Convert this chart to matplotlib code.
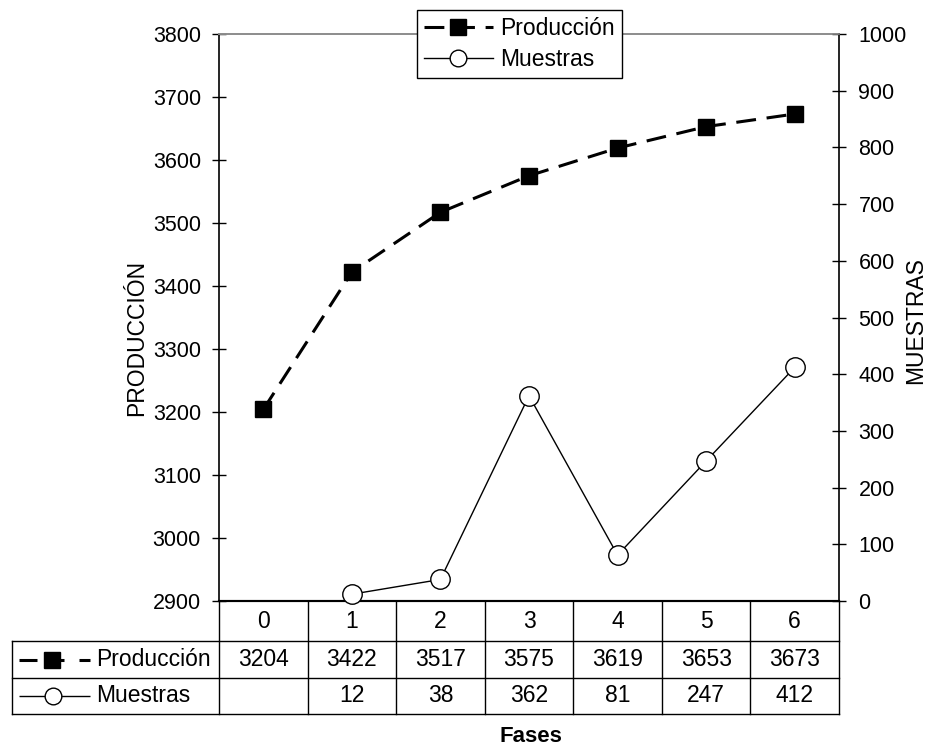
import numpy as np
import matplotlib.pyplot as plt
from matplotlib.lines import Line2D
from matplotlib import transforms

plt.rcParams['font.family'] = ['Liberation Sans', 'DejaVu Sans']
plt.rcParams['font.size'] = 16.5

# Data
fases = [0, 1, 2, 3, 4, 5, 6]
produccion = [3204, 3422, 3517, 3575, 3619, 3653, 3673]
muestras = [None, 12, 38, 362, 81, 247, 412]

W, H = 930, 749
fig = plt.figure(figsize=(W / 100, H / 100), dpi=100)

# plot area in pixels
left, right, top, bottom = 219, 839, 34, 601
ax = fig.add_axes([left / W, (H - bottom) / H, (right - left) / W, (bottom - top) / H])
ax2 = ax.twinx()

x = np.array(fases, dtype=float)
m = np.array([np.nan if v is None else v for v in muestras], dtype=float)

prod_style = dict(color='black', lw=2.2, dashes=(6.5, 3.5), marker='s', markersize=11,
                  markerfacecolor='black', markeredgecolor='black')
mues_style = dict(color='black', lw=1, marker='o', markersize=14,
                  markerfacecolor='white', markeredgecolor='black', markeredgewidth=1)

l1, = ax.plot(x, produccion, label='Producción', zorder=3, **prod_style)
l2, = ax2.plot(x, m, label='Muestras', zorder=3, clip_on=False, **mues_style)

ax.set_xlim(-0.5, 6.5)
ax.set_ylim(2900, 3800)
ax.set_yticks(np.arange(2900, 3801, 100))
ax2.set_ylim(0, 1000)
ax2.set_yticks(np.arange(0, 1001, 100))
ax.set_xticks([])

for a in (ax, ax2):
    a.tick_params(axis='y', direction='inout', length=10, width=1, labelsize=15.5)
    a.spines['top'].set_color('#8c8c8c')
    a.spines['top'].set_linewidth(1.2)
    a.spines['left'].set_linewidth(1.2)
    a.spines['right'].set_linewidth(1.2)
    a.spines['bottom'].set_linewidth(1.5)
ax.tick_params(axis='y', pad=8)
ax2.tick_params(axis='y', pad=9)
ax2.spines['left'].set_visible(False)
ax.spines['right'].set_visible(False)

# axis titles
fig.text(137 / W, (H - 338) / H, 'PRODUCCIÓN', rotation=90, ha='center', va='center', fontsize=16.5)
fig.text(916 / W, (H - 321) / H, 'MUESTRAS', rotation=90, ha='center', va='center', fontsize=16.5)
fig.text(531 / W, (H - 736) / H, 'Fases', ha='center', va='center', fontsize=16, fontweight='bold')

# data table under the plot
tr = transforms.blended_transform_factory(ax.transData, ax.transAxes)
ph = bottom - top
def yax(py):
    return (bottom - py) / ph

r1, r2, r3 = 641, 678, 714
x_left = (12 - left) / ((right - left) / 7) - 0.5
line_kw = dict(color='black', lw=1, transform=tr, clip_on=False)
for yy in (r1, r2, r3):
    ax.plot([x_left, 6.5], [yax(yy)] * 2, **line_kw)
ax.plot([x_left, x_left], [yax(r1), yax(r3)], **line_kw)
for b in np.arange(-0.5, 7, 1.0):
    ax.plot([b, b], [0, yax(r3)], **line_kw)

for i, f in enumerate(fases):
    ax.text(x[i], yax((bottom + r1) / 2), str(f), transform=tr, ha='center', va='center')
    ax.text(x[i], yax((r1 + r2) / 2), str(produccion[i]), transform=tr, ha='center', va='center')
    if muestras[i] is not None:
        ax.text(x[i], yax((r2 + r3) / 2), str(muestras[i]), transform=tr, ha='center', va='center')

# row keys in the table
def px2fig(px, py):
    return px / W, (H - py) / H

def key_seg(x0, x1, py, lw):
    (a, b), (c, _) = px2fig(x0, py), px2fig(x1, py)
    fig.add_artist(Line2D([a, c], [b, b], color='black', lw=lw, solid_capstyle='butt',
                          transform=fig.transFigure))

yp = (r1 + r2) / 2
for x0, x1 in [(19, 37), (45, 64), (79, 90)]:
    key_seg(x0, x1, yp, 2.2)
mx, fy = px2fig(52, yp)
fig.add_artist(Line2D([mx], [fy], marker='s', markersize=11, color='black',
                      transform=fig.transFigure))
fig.text(96 / W, fy, 'Producción', ha='left', va='center', fontsize=16.5)

ym = (r2 + r3) / 2
key_seg(19, 90, ym, 1)
mx, fy = px2fig(53, ym)
fig.add_artist(Line2D([mx], [fy], marker='o', markersize=12, markerfacecolor='white',
                      markeredgecolor='black', color='black', transform=fig.transFigure))
fig.text(96 / W, fy, 'Muestras', ha='left', va='center', fontsize=16.5)

# legend
leg = fig.legend(handles=[l1, l2], loc='center', bbox_to_anchor=(519.5 / W, (H - 44) / H),
                 frameon=True, fancybox=False, edgecolor='black', framealpha=1,
                 handlelength=3.0, handletextpad=0.35, borderpad=0.3, labelspacing=0.35,
                 borderaxespad=0, fontsize=16.5, numpoints=1)
leg.get_frame().set_linewidth(1)
leg.legend_handles[1].set_markersize(12)

fig.savefig('out.png', dpi=100)
